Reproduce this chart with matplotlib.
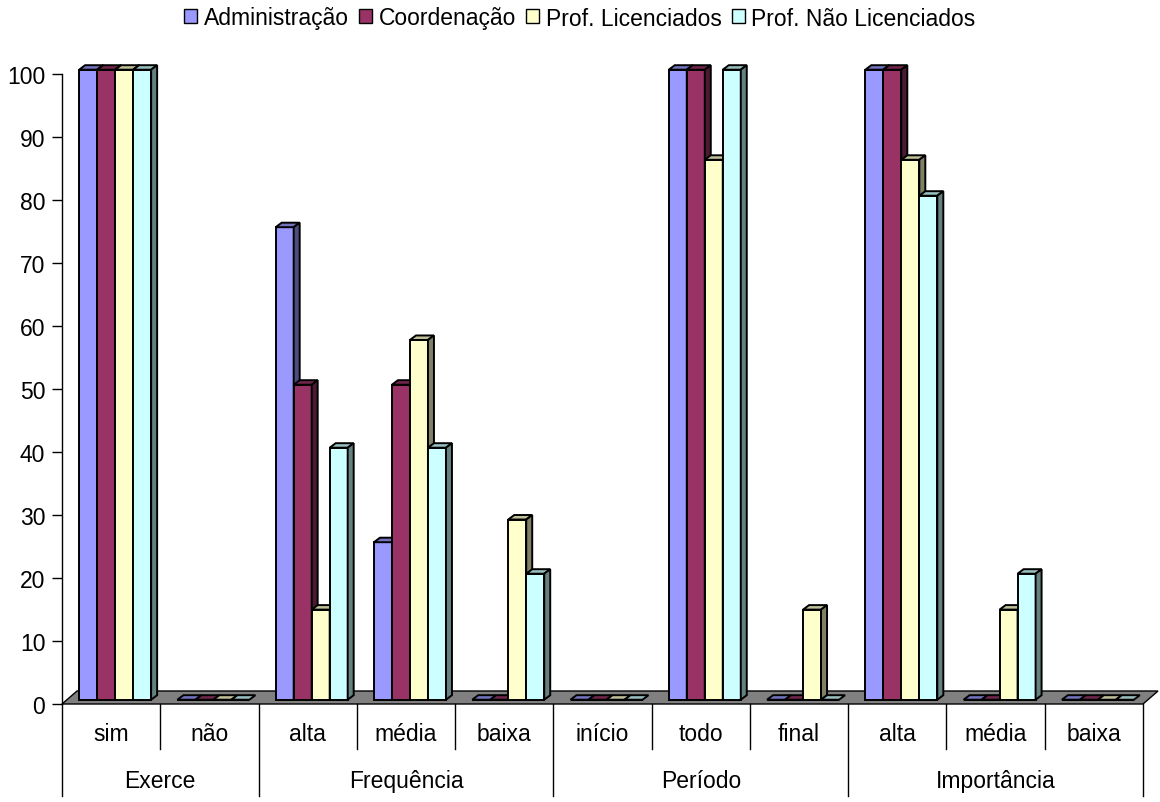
import matplotlib
matplotlib.use("Agg")
import matplotlib.pyplot as plt
from matplotlib.patches import Polygon, Patch
from matplotlib.lines import Line2D
from matplotlib.colors import to_rgb

plt.rcParams['font.family'] = ['Liberation Sans', 'DejaVu Sans']

# categories and groups
sub_labels = ['sim', 'não', 'alta', 'média', 'baixa', 'início', 'todo', 'final', 'alta', 'média', 'baixa']
groups = ['Exerce', 'Frequência', 'Período', 'Importância']
group_sizes = [2, 3, 3, 3]

series_names = ['Administração', 'Coordenação', 'Prof. Licenciados', 'Prof. Não Licenciados']
admin = [100, 0, 75, 25, 0, 0, 100, 0, 100, 0, 0]
coord = [100, 0, 50, 50, 0, 0, 100, 0, 100, 0, 0]
lic = [100, 0, 14.3, 57.1, 28.6, 0, 85.7, 14.3, 85.7, 14.3, 0]
naolic = [100, 0, 40, 40, 20, 0, 100, 0, 80, 20, 0]
series = [admin, coord, lic, naolic]
colors = ['#9999FF', '#993366', '#FFFFCC', '#CCFFFF']

W, H = 1160, 803
fig = plt.figure(figsize=(W / 100, H / 100), dpi=100)
ax_l, ax_r, ax_b, ax_t = 62, 1143, 705, 75
ax = fig.add_axes([ax_l / W, 1 - ax_b / H, (ax_r - ax_l) / W, (ax_b - ax_t) / H])
n = len(sub_labels)
ax.set_xlim(0, n)
ax.set_ylim(0, 100)

# pixel -> data unit helpers
sx = n / (ax_r - ax_l)
sy = 100 / (ax_b - ax_t)


def shade(c, f):
    r, g, b = to_rgb(c)
    return (r * f, g * f, b * f)


# floor
fdx, fdy = 15 * sx, 13 * sy
floor = Polygon([(0, 0), (n, 0), (n + fdx, fdy), (fdx, fdy)], closed=True,
                facecolor='#808080', edgecolor='black', lw=1, clip_on=False, zorder=1)
ax.add_patch(floor)

# bars with pseudo 3d faces
bw = 18 * sx
ox, oy = 4 * sx, 4.3 * sy   # front face offset from floor front
dx, dy = 6 * sx, 4.5 * sy   # bar depth
for i in range(n):
    left0 = i + 0.5 - 2 * bw + ox
    for k, vals in enumerate(series):
        v = vals[i]
        x0 = left0 + k * bw
        x1 = x0 + bw
        z = 2 + i * 0.01 + k * 0.001
        ax.bar(x0, v, width=bw, bottom=oy, align='edge', color=colors[k],
               edgecolor='black', lw=1.4, zorder=z, clip_on=False)
        top = oy + v
        ax.add_patch(Polygon([(x0, top), (x1, top), (x1 + dx, top + dy), (x0 + dx, top + dy)],
                             closed=True, facecolor=shade(colors[k], 0.75), edgecolor='black',
                             lw=1.4, zorder=z, clip_on=False))
        if v > 0:
            ax.add_patch(Polygon([(x1, oy), (x1, top), (x1 + dx, top + dy), (x1 + dx, oy + dy)],
                                 closed=True, facecolor=shade(colors[k], 0.5), edgecolor='black',
                                 lw=1.4, zorder=z, clip_on=False))

# axes styling
for s in ['top', 'right', 'bottom']:
    ax.spines[s].set_visible(False)
ax.spines['left'].set_linewidth(1)
ax.set_xticks([])
ax.set_yticks(range(0, 101, 10))
ax.tick_params(axis='y', length=7, width=1, labelsize=16.5, pad=5)
ax.patch.set_alpha(0)

# two-level category labels
xt = ax.get_xaxis_transform()
sub_y = -(735 - ax_b) / (ax_b - ax_t)
grp_y = -(782 - ax_b) / (ax_b - ax_t)
sub_end = -(750 - ax_b) / (ax_b - ax_t)
grp_end = -(797 - ax_b) / (ax_b - ax_t)
for i, lab in enumerate(sub_labels):
    ax.text(i + 0.5, sub_y, lab, transform=xt, ha='center', va='center', fontsize=16.5)

bounds = [0]
for g in group_sizes:
    bounds.append(bounds[-1] + g)
for i in range(n + 1):
    end = grp_end if i in bounds else sub_end
    ax.add_line(Line2D([i, i], [0, end], transform=xt, color='black', lw=1, clip_on=False))
for g, name in enumerate(groups):
    ax.text((bounds[g] + bounds[g + 1]) / 2, grp_y, name, transform=xt,
            ha='center', va='center', fontsize=16.5)

handles = [Patch(facecolor=c, edgecolor='black', lw=1) for c in colors]
fig.legend(handles, series_names, loc='center', bbox_to_anchor=(0.5, 1 - 19 / H),
           ncol=4, frameon=False, fontsize=16.5, handlelength=0.55, handleheight=0.55,
           handletextpad=0.3, columnspacing=0.45, borderaxespad=0)

fig.savefig('out.png', dpi=100)
